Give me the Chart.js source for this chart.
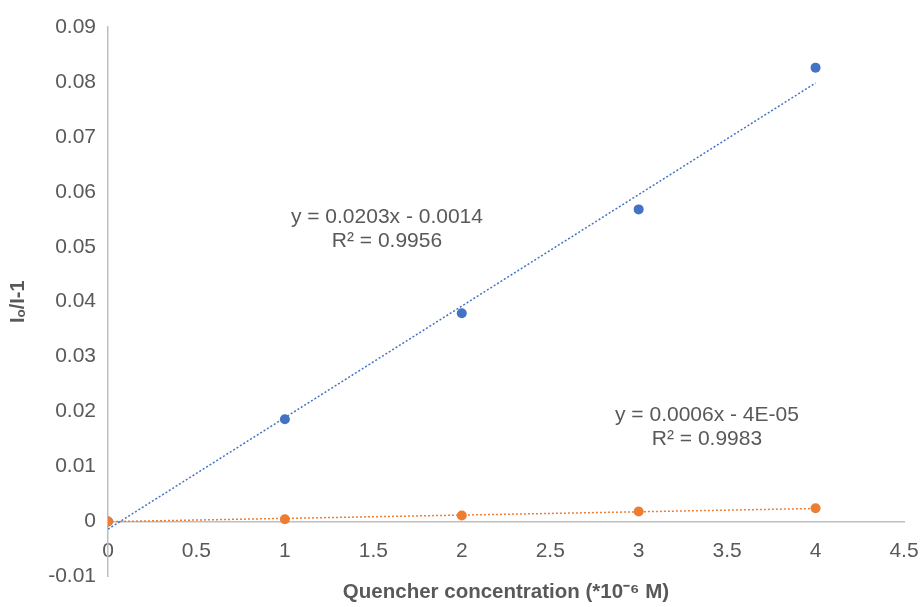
<!DOCTYPE html>
<html>
<head>
<meta charset="utf-8">
<script src="https://cdn.jsdelivr.net/npm/chart.js@4.4.0/dist/chart.umd.min.js"></script>
<style>
  html, body { margin: 0; padding: 0; background: #fff; }
  #wrap { width: 922px; height: 607px; }
</style>
</head>
<body>
<div id="wrap"><canvas id="chart"></canvas></div>
<script>
// concentrations (*10^-6 M)
const concentrations = [0, 1, 2, 3, 4];
const blueValues = [0, 0.0186, 0.0379, 0.0568, 0.0826];
const orangeValues = [0, 0.0004, 0.0011, 0.0018, 0.0024];

// trendline ends, from the printed equations
const trendX = [0, 4];
const blueTrend = [-0.0014, 0.0798];
const orangeTrend = [-0.00004, 0.00236];

const xTickLabels = ['0', '0.5', '1', '1.5', '2', '2.5', '3', '3.5', '4', '4.5'];
const yTickLabels = ['-0.01', '0', '0.01', '0.02', '0.03', '0.04', '0.05', '0.06', '0.07', '0.08', '0.09'];

// equation labels
const eqLines = [
    ['y = 0.0203x - 0.0014', 'R\u00B2 = 0.9956'],
    ['y = 0.0006x - 4E-05', 'R\u00B2 = 0.9983']
];
const eqX = [1.577, 3.386];
const eqY = [0.0554, 0.0193];

const BLUE = '#4472C4';
const ORANGE = '#ED7D31';
const TEXT = '#595959';
const AXIS = '#BFBFBF';
const FONT = "'Liberation Sans', Arial, sans-serif";

function pts(xs, ys) {
    return xs.map((x, i) => ({ x: x, y: ys[i] }));
}

const equationLabels = {
    id: 'equationLabels',
    afterDatasetsDraw(chart) {
        const ctx = chart.ctx;
        const xs = chart.scales.x, ys = chart.scales.y;
        ctx.save();
        ctx.font = '21px ' + FONT;
        ctx.fillStyle = TEXT;
        ctx.textAlign = 'center';
        ctx.textBaseline = 'middle';
        eqLines.forEach((lines, i) => {
            const px = xs.getPixelForValue(eqX[i]);
            const py = ys.getPixelForValue(eqY[i]);
            lines.forEach((t, j) => ctx.fillText(t, px, py + j * 24));
        });
        ctx.restore();
    }
};

const config = {
    type: 'scatter',
    data: {
        datasets: [
            {
                label: 'Series2',
                data: pts(concentrations, orangeValues),
                backgroundColor: ORANGE,
                borderColor: ORANGE,
                pointRadius: 5,
                pointBorderWidth: 0,
                order: 0
            },
            {
                label: 'Series1',
                data: pts(concentrations, blueValues),
                backgroundColor: BLUE,
                borderColor: BLUE,
                pointRadius: 5,
                pointBorderWidth: 0,
                order: 1
            },
            {
                label: 'orange trend',
                type: 'line',
                data: pts(trendX, orangeTrend),
                borderColor: ORANGE,
                borderWidth: 1.5,
                borderDash: [2, 2],
                pointRadius: 0,
                fill: false,
                order: 2
            },
            {
                label: 'blue trend',
                type: 'line',
                data: pts(trendX, blueTrend),
                borderColor: BLUE,
                borderWidth: 1.5,
                borderDash: [2, 2],
                pointRadius: 0,
                fill: false,
                order: 3
            }
        ]
    },
    options: {
        responsive: true,
        maintainAspectRatio: false,
        animation: false,
        layout: {
            padding: { left: 0, right: 18, top: 27, bottom: 0 }
        },
        plugins: {
            legend: { display: false },
            tooltip: { enabled: false },
            title: {
                display: true,
                position: 'bottom',
                fullSize: false,
                text: 'Quencher concentration (*10\u207B\u2076 M)',
                color: TEXT,
                font: { family: FONT, size: 20.5, weight: 'bold' },
                padding: { top: 4, bottom: 2 }
            }
        },
        scales: {
            x: {
                type: 'linear',
                position: { y: 0 },
                min: 0,
                max: 4.5,
                afterFit: (scale) => { scale.paddingRight = 0; scale.paddingLeft = 0; },
                grid: { display: false, drawTicks: false },
                border: { display: true, color: AXIS, width: 1.5 },
                ticks: {
                    stepSize: 0.5,
                    padding: 17,
                    color: TEXT,
                    font: { family: FONT, size: 21 },
                    callback: (v, i) => xTickLabels[i]
                }
            },
            y: {
                type: 'linear',
                position: 'left',
                min: -0.01,
                max: 0.09,
                afterFit: (scale) => { scale.width = 108; },
                grid: { display: false, drawTicks: false },
                border: { display: true, color: AXIS, width: 1.5 },
                ticks: {
                    stepSize: 0.01,
                    padding: 12,
                    color: TEXT,
                    font: { family: FONT, size: 21 },
                    callback: (v, i) => yTickLabels[i]
                },
                title: {
                    display: true,
                    text: 'I\u2092/I-1',
                    color: TEXT,
                    font: { family: FONT, size: 20, weight: 'bold' },
                    padding: { top: 6, bottom: 0 }
                }
            }
        }
    },
    plugins: [equationLabels]
};

new Chart(document.getElementById('chart'), config);
</script>
</body>
</html>
